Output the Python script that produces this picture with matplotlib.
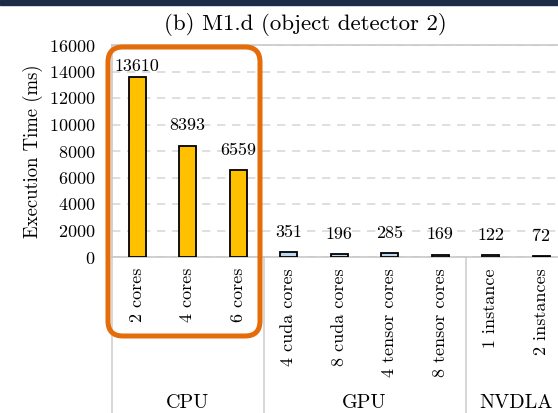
import matplotlib
matplotlib.use("Agg")
import matplotlib.pyplot as plt
from matplotlib.patches import FancyBboxPatch, Rectangle
import matplotlib.transforms as mtransforms

plt.rcParams["font.family"] = ["cmr10", "DejaVu Serif"]
plt.rcParams["axes.formatter.use_mathtext"] = True

etiquetas = ["2 cores", "4 cores", "6 cores",
             "4 cuda cores", "8 cuda cores", "4 tensor cores", "8 tensor cores",
             "1 instance", "2 instances"]
tempos = [13610, 8393, 6559, 351, 196, 285, 169, 122, 72]
grupos = ["CPU", "GPU", "NVDLA"]
tamanho_grupos = [3, 4, 2]
cores_grupos = ["#FFC000", "#BDD7EE", "#BDD7EE"]

fig = plt.figure(figsize=(5.58, 4.13), dpi=100)
ax = fig.add_axes([112 / 558, 156 / 413, 505 / 558, 212 / 413])

cores = []
for g, n in enumerate(tamanho_grupos):
    cores += [cores_grupos[g]] * n

x = list(range(len(tempos)))
ax.bar(x, tempos, width=0.34, color=cores, edgecolor="black", linewidth=1.3, zorder=3)

for xi, v in zip(x, tempos):
    desloc = 2 if v > 12000 else 9
    ax.annotate(str(v), (xi, v), xytext=(0, desloc), textcoords="offset points",
                ha="center", va="bottom", fontsize=13)

ax.set_xlim(-0.5, 9.5)
ax.set_ylim(0, 16000)
ax.set_yticks(range(0, 16001, 2000))
ax.tick_params(axis="y", length=0, labelsize=13, pad=12)
ax.set_xticks(x)
ax.set_xticklabels(etiquetas, rotation=90, fontsize=13, va="top")
ax.tick_params(axis="x", length=0, pad=8)
ax.set_ylabel("Execution Time (ms)", fontsize=13.5, labelpad=4)

ax.grid(axis="y", color="#d9d9d9", linestyle=(0, (5, 4)), linewidth=1.2, zorder=0)
for s in ax.spines.values():
    s.set_color("#c8c8c8")
    s.set_linewidth(1.2)

# separadores dos grupos
trans = mtransforms.blended_transform_factory(ax.transData, ax.transAxes)
inicio = -0.5
for g, n in enumerate(tamanho_grupos):
    ax.plot([inicio, inicio], [0, -0.74], transform=trans, color="#d0d0d0",
            linewidth=1.2, clip_on=False)
    ax.text(inicio + n / 2, -0.69, grupos[g], transform=trans, ha="center",
            va="center", fontsize=14.5)
    inicio += n

fig.text(305 / 558, 1 - 24 / 413, "(b) M1.d (object detector 2)", fontsize=16.5,
         ha="center", va="center")

# destaque laranja
caixa = FancyBboxPatch((1.08, 0.77), 1.52, 2.89,
                       boxstyle="round,pad=0,rounding_size=0.15",
                       transform=fig.dpi_scale_trans, fill=False,
                       edgecolor="#E46C0A", linewidth=3.6, zorder=10)
fig.patches.append(caixa)

# faixa escura no topo
fig.patches.append(Rectangle((0, 408 / 413), 1, 5 / 413, transform=fig.transFigure,
                             color="#1c2b48", zorder=0))

fig.savefig("out.png", dpi=100)
